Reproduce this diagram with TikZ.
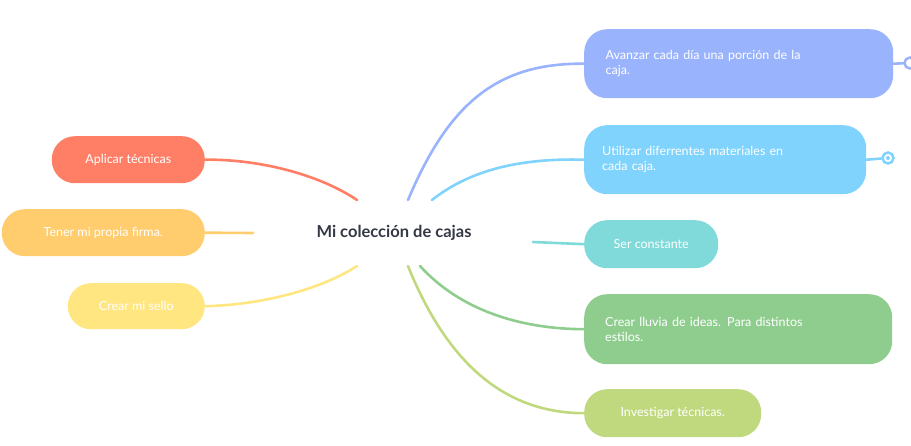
\documentclass[tikz,border=0pt]{standalone}
\usepackage{fontspec}
\setmainfont{Lato}
\begin{document}
\begin{tikzpicture}[x=1pt,y=-1pt,
  topic/.style={rounded corners=23pt,fill=#1,text=white,font=\fontsize{12.5}{16}\selectfont,align=left,inner sep=0pt,anchor=north west},
  link/.style={line width=2.6pt,color=#1,line cap=round},
  ring/.style={circle,draw=#1,line width=2.5pt,fill=white,minimum size=11pt,inner sep=0pt}]
\definecolor{cA}{HTML}{9AB3FD}
\definecolor{cB}{HTML}{80D3FD}
\definecolor{cC}{HTML}{80DADA}
\definecolor{cD}{HTML}{8FCD8F}
\definecolor{cE}{HTML}{C1D97E}
\definecolor{cF}{HTML}{FF7F66}
\definecolor{cG}{HTML}{FFCD6E}
\definecolor{cH}{HTML}{FFE680}
\definecolor{ctext}{HTML}{333844}
\useasboundingbox (0,0) rectangle (911,446);
% topics
\node[topic=cA,minimum width=309pt,minimum height=69pt,text width=290pt] (a) at (584,29) {\hspace*{12pt}Avanzar cada día una porción de la\\[-1pt]\hspace*{12pt}caja.};
\node[topic=cB,minimum width=282pt,minimum height=69pt,text width=270pt] (b) at (584,125) {\hspace*{12pt}Utilizar diferrentes materiales en\\[-1pt]\hspace*{12pt}cada caja.};
\node[topic=cC,minimum width=134pt,minimum height=48pt] (c) at (584,220) {\hspace*{12pt}Ser constante\hspace*{12pt}};
\node[topic=cD,minimum width=308pt,minimum height=70pt,text width=290pt] (d) at (584,294) {\hspace*{12pt}Crear lluvia de ideas. Para distintos\\[-1pt]\hspace*{12pt}estilos.};
\node[topic=cE,minimum width=177pt,minimum height=48pt] (e) at (584,389) {\hspace*{12pt}Investigar técnicas.\hspace*{12pt}};
\node[topic=cF,minimum width=153pt,minimum height=47pt,anchor=north east] (f) at (205,136) {\hspace*{12pt}Aplicar técnicas\hspace*{12pt}};
\node[topic=cG,minimum width=203pt,minimum height=47pt,anchor=north east] (g) at (205,209) {\hspace*{12pt}Tener mi propia firma.\hspace*{12pt}};
\node[topic=cH,minimum width=137pt,minimum height=46pt,anchor=north east] (h) at (205,283) {\hspace*{12pt}Crear mi sello\hspace*{12pt}};
% central
\node[font=\fontsize{16.5}{20}\selectfont\bfseries,text=ctext] (m) at (394,233) {Mi colección de cajas};
\coordinate (ma) at (408,200); \coordinate (mb) at (432,200);
\coordinate (mc) at (533,242); \coordinate (md) at (420,266);
\coordinate (me) at (408,266); \coordinate (mf) at (357,200);
\coordinate (mg) at (253,233); \coordinate (mh) at (357,266);
% links
\draw[link=cA] (ma) .. controls (450,100) and (500,63) .. (a.west);
\draw[link=cB] (mb) .. controls (470,170) and (520,158) .. (b.west);
\draw[link=cC] (mc) -- (c.west);
\draw[link=cD] (md) .. controls (460,310) and (520,329) .. (d.west);
\draw[link=cE] (me) .. controls (450,370) and (510,413) .. (e.west);
\draw[link=cF] (mf) .. controls (320,175) and (260,159) .. (f.east);
\draw[link=cG] (mg) -- (g.east);
\draw[link=cH] (mh) .. controls (320,290) and (260,305) .. (h.east);
% rings
\node[ring=cA] (ra) at (910,63) {};
\node[ring=cB] (rb) at (888,158) {};
\draw[link=cA] (a.east) -- (ra);
\draw[link=cB] (b.east) -- (rb);
\fill[cB] (rb) circle (2pt);
\end{tikzpicture}
\end{document}
